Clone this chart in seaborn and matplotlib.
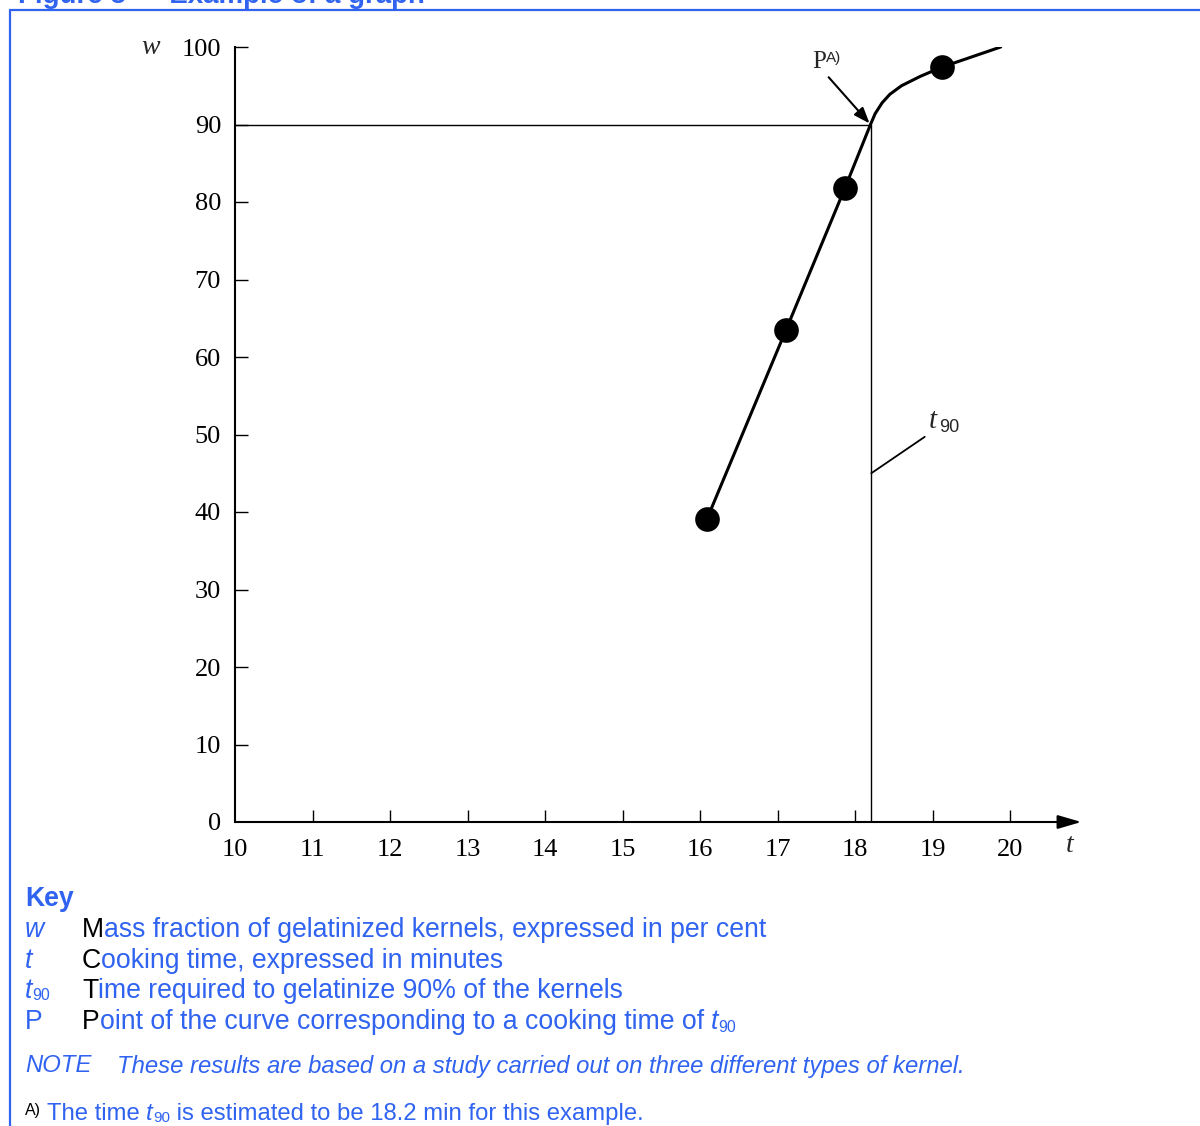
import numpy as np
import pandas as pd
import matplotlib
matplotlib.use("Agg")
import matplotlib.pyplot as plt
import seaborn as sns

# cooking time (min) and mass fraction of gelatinized kernels (%)
t_points = [16.09, 17.11, 17.87, 19.12]
w_points = [39.1, 63.5, 81.8, 97.4]

t_curve = [16.09, 17.11, 17.87, 18.2, 18.26, 18.35, 18.45, 18.6, 18.84, 19.12, 19.5, 19.88]
w_curve = [39.1, 63.5, 81.8, 90.0, 91.4, 92.8, 93.9, 95.0, 96.2, 97.4, 98.7, 100.0]

t90 = 18.2
w90 = 90

x_ticks = list(range(10, 21))
y_ticks = list(range(0, 101, 10))

key_symbols = ["w", "t", "t90", "P"]
key_texts = [
    "Mass fraction of gelatinized kernels, expressed in per cent",
    "Cooking time, expressed in minutes",
    "Time required to gelatinize 90% of the kernels",
    "Point of the curve corresponding to a cooking time of ",
]

BLUE = "#2f63f0"
W, H = 1200, 1126

sns.set_theme(style="white")
plt.rcParams["font.family"] = ["Liberation Sans", "DejaVu Sans"]

fig = plt.figure(figsize=(W / 100, H / 100), dpi=100)


def fx(px):
    return px / W


def fy(py):
    return 1 - py / H


def text_right(t):
    fig.canvas.draw()
    return t.get_window_extent().x1


ax = fig.add_axes([fx(235), fy(822), (1085 - 235) / W, (822 - 47) / H])

curve = pd.DataFrame({"t": t_curve, "w": w_curve})
pts = pd.DataFrame({"t": t_points, "w": w_points})

sns.lineplot(data=curve, x="t", y="w", sort=False, estimator=None,
             color="black", linewidth=2.2, ax=ax)
sns.scatterplot(data=pts, x="t", y="w", s=270, color="black",
                edgecolor="black", zorder=5, ax=ax)

# t90 guide lines
ax.plot([10, t90], [w90, w90], color="black", linewidth=1.0)
ax.plot([t90, t90], [0, w90], color="black", linewidth=1.0)

ax.set_xlim(10, 10 + (1085 - 235) / 77.5)
ax.set_ylim(0, 100)
ax.set_xlabel("")
ax.set_ylabel("")

for s in ["top", "right", "bottom"]:
    ax.spines[s].set_visible(False)
ax.spines["left"].set_color("black")
ax.spines["left"].set_linewidth(1.5)

# x axis with arrow
ax.annotate("", xy=(20.92, 0), xytext=(10, 0), xycoords="data",
            arrowprops=dict(arrowstyle="-|>,head_length=1.2,head_width=0.35",
                            color="black", lw=1.5, shrinkA=0, shrinkB=0),
            annotation_clip=False)

ax.set_xticks(x_ticks)
ax.set_yticks(y_ticks)
ax.set_xticklabels([str(v) for v in x_ticks], family="Liberation Serif", fontsize=19)
ax.set_yticklabels([str(v) for v in y_ticks], family="Liberation Serif", fontsize=19)
ax.tick_params(axis="x", direction="in", length=9, width=1.0, pad=12, colors="black",
               bottom=True)
ax.tick_params(axis="y", direction="in", length=9, width=1.0, pad=10, colors="black",
               left=True)
ax.xaxis.get_major_ticks()[0].tick1line.set_visible(False)
ax.yaxis.get_major_ticks()[0].tick1line.set_visible(False)

# axis symbols
fig.text(fx(151), fy(48), "w", family="Liberation Serif", style="italic",
         fontsize=20, ha="center", va="center")
fig.text(fx(1070), fy(846), "t", family="Liberation Serif", style="italic",
         fontsize=20, ha="center", va="center")

# P annotation
ax.annotate("", xy=(t90, w90), xytext=(17.66, 96.1),
            arrowprops=dict(arrowstyle="-|>,head_length=0.8,head_width=0.3",
                            color="black", lw=1.5, shrinkA=0, shrinkB=1))
fig.text(fx(812), fy(62), "P", family="Liberation Serif", fontsize=18,
         ha="left", va="center")
fig.text(fx(826), fy(58), "A)", fontsize=11, ha="left", va="center")

# t90 annotation
ax.plot([18.21, 18.90], [45.0, 49.7], color="black", linewidth=1.3)
fig.text(fx(929), fy(421), "t", family="Liberation Serif", style="italic",
         fontsize=21, ha="left", va="center")
fig.text(fx(939), fy(428), "90", fontsize=13, ha="left", va="center")

# figure border and clipped title
fig.add_artist(plt.Line2D([fx(10), fx(1200)], [fy(10), fy(10)], color=BLUE, lw=1.6))
fig.add_artist(plt.Line2D([fx(10), fx(10)], [fy(10), fy(1126)], color=BLUE, lw=1.6))
fig.text(fx(18), fy(3), "Figure 5 \u2014 Example of a graph", color=BLUE,
         fontsize=20, fontweight="bold", ha="left", va="baseline")

# key
fs = 19.2
fig.text(fx(25), fy(899), "Key", color=BLUE, fontsize=fs, fontweight="bold",
         ha="left", va="center")
rows_y = [930, 961, 991, 1022]
for sym, txt, py in zip(key_symbols, key_texts, rows_y):
    if sym == "t90":
        fig.text(fx(25), fy(py), "t", color=BLUE, fontsize=fs, style="italic",
                 ha="left", va="center")
        fig.text(fx(32), fy(py + 5), "90", color=BLUE, fontsize=11.5,
                 ha="left", va="center")
    else:
        fig.text(fx(25), fy(py), sym, color=BLUE, fontsize=fs,
                 style="normal" if sym == "P" else "italic", ha="left", va="center")
    first = fig.text(fx(82), fy(py), txt[0], color="black", fontsize=fs,
                     ha="left", va="center")
    x1 = text_right(first)
    rest = fig.text(x1 / W, fy(py), txt[1:], color=BLUE, fontsize=fs,
                    ha="left", va="center")
    if sym == "P":
        x_end = text_right(rest)
        fig.text(x_end / W, fy(py), "t", color=BLUE, fontsize=fs, style="italic",
                 ha="left", va="center")
        fig.text((x_end + 7) / W, fy(py + 5), "90", color=BLUE, fontsize=11.5,
                 ha="left", va="center")

fs2 = 17.2
fig.text(fx(25), fy(1066), "NOTE", color=BLUE, fontsize=fs2, style="italic",
         ha="left", va="center")
fig.text(fx(117), fy(1066),
         "These results are based on a study carried out on three different types of kernel.",
         color=BLUE, fontsize=fs2, style="italic", ha="left", va="center")

fig.text(fx(25), fy(1110), "A)", color="black", fontsize=11.5, ha="left", va="center")
fn = fig.text(fx(47), fy(1114), "The time ", color=BLUE, fontsize=fs2,
              ha="left", va="center")
x1 = text_right(fn)
tt = fig.text(x1 / W, fy(1114), "t", color=BLUE, fontsize=fs2, style="italic",
              ha="left", va="center")
x2 = text_right(tt)
sub = fig.text(x2 / W, fy(1118), "90", color=BLUE, fontsize=11, ha="left", va="center")
x3 = text_right(sub)
fig.text(x3 / W, fy(1114), " is estimated to be 18.2 min for this example.",
         color=BLUE, fontsize=fs2, ha="left", va="center")

fig.savefig("out.png", dpi=100)
